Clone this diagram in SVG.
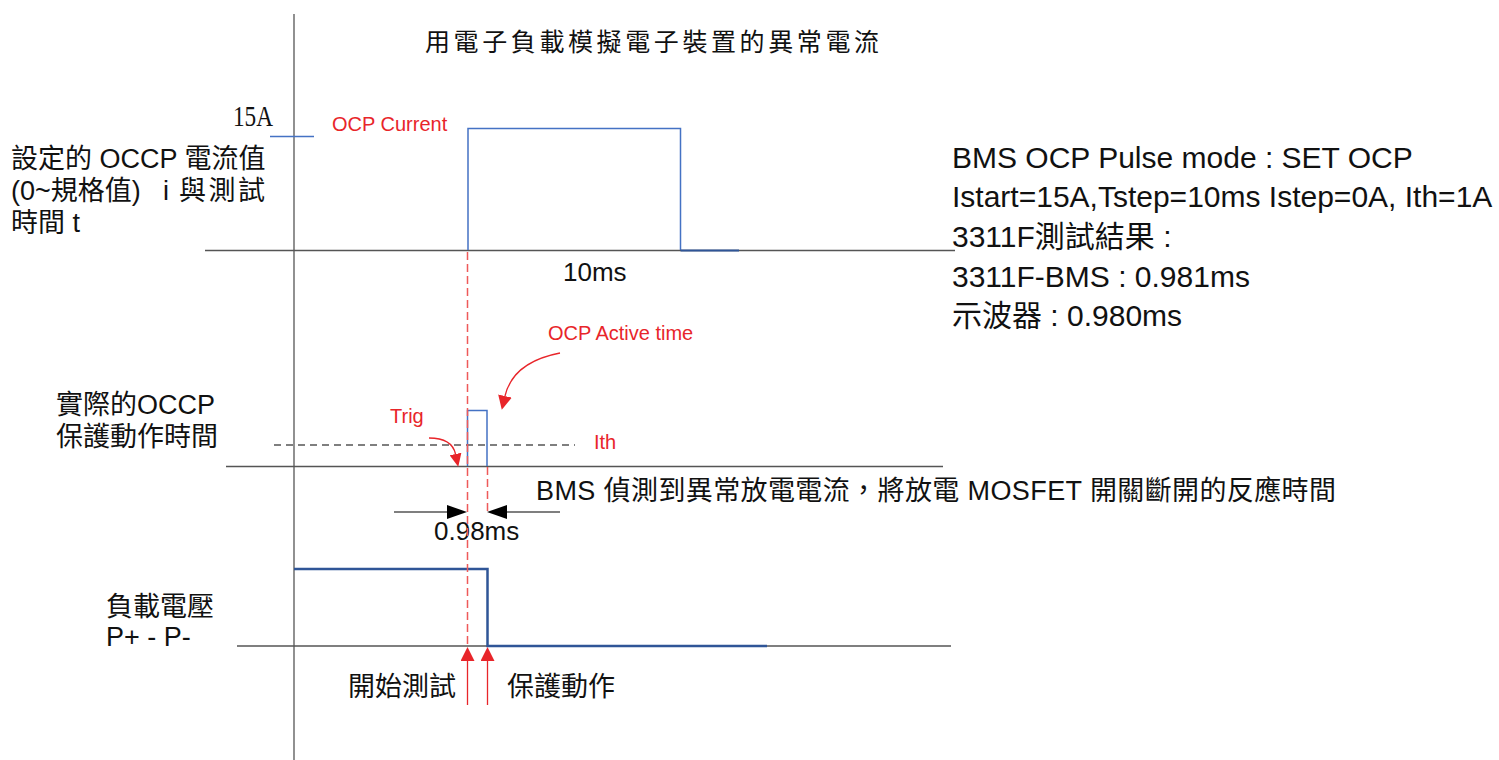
<svg xmlns="http://www.w3.org/2000/svg" width="1499" height="760" viewBox="0 0 1499 760">
<style>
.t{font-family:"Liberation Sans","Noto Sans CJK TC",sans-serif;fill:#111}
.r{font-family:"Liberation Sans","Noto Sans CJK TC",sans-serif;fill:#E8252A;font-size:20px}
.ax{stroke:#555;stroke-width:1.3;fill:none}
.bl{stroke:#4472C4;stroke-width:1.5;fill:none}
.bd{stroke:#2F5597;stroke-width:2.5;fill:none}
.rd{stroke:#EE5A5A;stroke-width:1.5;stroke-dasharray:8 4;fill:none}
.rs{stroke:#E8252A;stroke-width:1.3;fill:none}
</style>
<defs>
<marker id="arrR" viewBox="0 0 14 14" refX="0" refY="7" markerWidth="14" markerHeight="14" markerUnits="userSpaceOnUse" orient="auto"><path d="M0,0 L14,7 L0,14 z" fill="#E8252A"/></marker>
<marker id="arrRs" viewBox="0 0 13 12" refX="0" refY="6" markerWidth="13" markerHeight="12" markerUnits="userSpaceOnUse" orient="auto"><path d="M0,0 L13,6 L0,12 z" fill="#E8252A"/></marker>
<marker id="arrK" viewBox="0 0 20 14" refX="0" refY="7" markerWidth="20" markerHeight="14" markerUnits="userSpaceOnUse" orient="auto"><path d="M0,0 L20,7 L0,14 z" fill="#000"/></marker>
</defs>

<g id="axes">
<line class="ax" x1="294" y1="14" x2="294" y2="760"/>
<line class="ax" x1="205" y1="250.5" x2="955" y2="250.5"/>
<line class="ax" x1="226" y1="466.5" x2="943" y2="466.5"/>
<line class="ax" x1="237" y1="646" x2="951" y2="646"/>
<line x1="274" y1="445" x2="575" y2="445" stroke="#555" stroke-width="1.3" stroke-dasharray="7 5"/>
</g>

<g id="title"><text class="t" x="425" y="51" font-size="25" letter-spacing="3.6">用電子負載模擬電子裝置的異常電流</text></g>

<g id="set-current">
<text x="233" y="126" font-family="'Liberation Serif',serif" font-size="30" textLength="40" lengthAdjust="spacingAndGlyphs" fill="#111">15A</text>
<line class="bl" x1="270" y1="136.5" x2="314" y2="136.5"/>
<text class="r" x="332" y="131">OCP Current</text>
<path class="bl" d="M468,250 V128.5 H680.5 V250"/>
<line x1="680.5" y1="250.5" x2="739" y2="250.5" stroke="#2F5597" stroke-width="2"/>
<text class="t" x="563" y="281" font-size="26">10ms</text>
<text class="t" font-size="27"><tspan x="11" y="168">設定的 OCCP 電流值</tspan><tspan x="11" y="200">(0~規格值) </tspan><tspan x="163" y="200">i </tspan><tspan x="179" y="200" letter-spacing="2.5">與測試</tspan><tspan x="11" y="232">時間 t</tspan></text>
</g>

<g id="actual-ocp">
<text class="t" font-size="27"><tspan x="56" y="414">實際的OCCP</tspan><tspan x="56" y="446">保護動作時間</tspan></text>
<path class="bl" d="M467.5,466 V410.5 H487 V466"/>
<text class="r" x="390" y="423">Trig</text>
<text class="r" x="594" y="449">Ith</text>
<text class="r" x="548" y="340">OCP Active time</text>
<text class="t" x="536" y="500" font-size="27" textLength="800" lengthAdjust="spacing">BMS 偵測到異常放電電流，將放電 MOSFET 開關斷開的反應時間</text>
<text class="t" x="434" y="540" font-size="26">0.98ms</text>
</g>

<g id="voltage">
<text class="t" font-size="27"><tspan x="106" y="616">負載電壓</tspan><tspan x="106" y="646">P+ - P-</tspan></text>
<path class="bd" d="M294,569 H487.5 V646 H767"/>
<text class="t" x="348" y="696" font-size="27">開始測試</text>
<text class="t" x="507" y="696" font-size="27">保護動作</text>
</g>

<g id="connectors">
<line class="rd" x1="467.5" y1="252" x2="467.5" y2="647"/>
<line class="rd" x1="487.5" y1="467" x2="487.5" y2="513"/>
<path class="rs" d="M560,353 Q513,362 505,396" marker-end="url(#arrR)"/>
<path class="rs" d="M429,438 Q452,438 455.5,454" marker-end="url(#arrRs)"/>
<line x1="394" y1="512" x2="447" y2="512" stroke="#555" stroke-width="1.3" marker-end="url(#arrK)"/>
<line x1="560" y1="512" x2="507" y2="512" stroke="#555" stroke-width="1.3" marker-end="url(#arrK)"/>
<line class="rs" x1="467.5" y1="705" x2="467.5" y2="661" marker-end="url(#arrR)"/>
<line class="rs" x1="487.5" y1="705" x2="487.5" y2="661" marker-end="url(#arrR)"/>
</g>

<g id="result-text">
<text class="t" font-size="30"><tspan x="952" y="168">BMS OCP Pulse mode : SET OCP</tspan><tspan x="952" y="207">Istart=15A,Tstep=10ms Istep=0A, Ith=1A</tspan><tspan x="952" y="247">3311F測試結果 :</tspan><tspan x="952" y="287">3311F-BMS : 0.981ms</tspan><tspan x="952" y="326">示波器 : 0.980ms</tspan></text>
</g>
</svg>
